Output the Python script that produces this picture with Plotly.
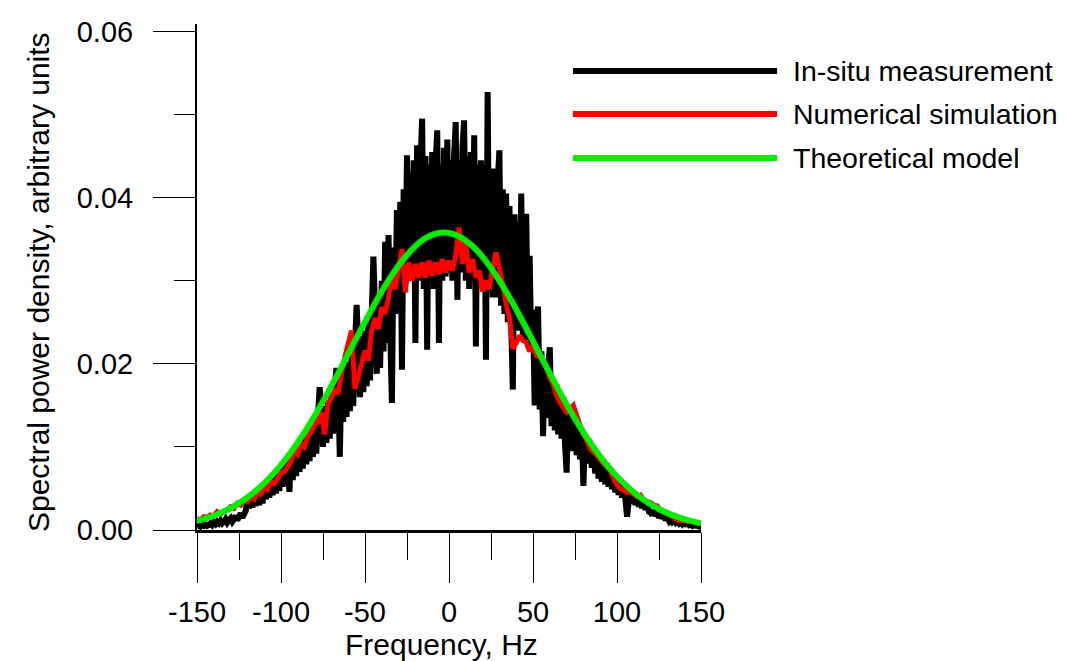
import plotly.graph_objects as go

# ---------------- data ----------------
insitu_freq = list(range(-150, 151, 1))
insitu_psd = [
    0.0004, 0.0005, 0.0004, 0.0006, 0.0005, 0.0007, 0.0005, 0.0006, 0.0008, 0.0006,
    0.0009, 0.0007, 0.0010, 0.0008, 0.0011, 0.0008, 0.0010, 0.0013, 0.0009, 0.0012,
    0.0014, 0.0010, 0.0013, 0.0017, 0.0012, 0.0016, 0.0020, 0.0015, 0.0019, 0.0023,
    0.0037, 0.0026, 0.0039, 0.0027, 0.0041, 0.0029, 0.0043, 0.0030, 0.0046, 0.0032,
    0.0053, 0.0037, 0.0056, 0.0039, 0.0059, 0.0042, 0.0063, 0.0044, 0.0068, 0.0047,
    0.0074, 0.0052, 0.0078, 0.0055, 0.0083, 0.0046, 0.0093, 0.0060, 0.0094, 0.0065,
    0.0100, 0.0070, 0.0106, 0.0074, 0.0112, 0.0079, 0.0119, 0.0083, 0.0125, 0.0088,
    0.0130, 0.0092, 0.0136, 0.0172, 0.0142, 0.0100, 0.0149, 0.0105, 0.0156, 0.0110,
    0.0164, 0.0116, 0.0172, 0.0195, 0.0178, 0.0088, 0.0186, 0.0130, 0.0195, 0.0136,
    0.0202, 0.0143, 0.0210, 0.0149, 0.0219, 0.0271, 0.0226, 0.0160, 0.0234, 0.0166,
    0.0240, 0.0173, 0.0250, 0.0180, 0.0260, 0.0329, 0.0265, 0.0188, 0.0273, 0.0195,
    0.0300, 0.0215, 0.0347, 0.0225, 0.0355, 0.0240, 0.0153, 0.0340, 0.0260, 0.0385,
    0.0300, 0.0395, 0.0193, 0.0410, 0.0300, 0.0451, 0.0310, 0.0430, 0.0300, 0.0445,
    0.0225, 0.0463, 0.0300, 0.0440, 0.0495, 0.0290, 0.0450, 0.0217, 0.0440, 0.0300,
    0.0455, 0.0290, 0.0440, 0.0481, 0.0225, 0.0440, 0.0300, 0.0460, 0.0305, 0.0470,
    0.0310, 0.0445, 0.0300, 0.0450, 0.0491, 0.0277, 0.0445, 0.0310, 0.0460, 0.0493,
    0.0300, 0.0450, 0.0290, 0.0455, 0.0300, 0.0475, 0.0221, 0.0440, 0.0300, 0.0445,
    0.0290, 0.0440, 0.0205, 0.0527, 0.0290, 0.0430, 0.0280, 0.0435, 0.0280, 0.0420,
    0.0457, 0.0270, 0.0410, 0.0260, 0.0405, 0.0250, 0.0390, 0.0250, 0.0169, 0.0380,
    0.0250, 0.0370, 0.0240, 0.0405, 0.0230, 0.0377, 0.0377, 0.0220, 0.0330, 0.0215,
    0.0265, 0.0150, 0.0240, 0.0269, 0.0145, 0.0215, 0.0113, 0.0205, 0.0135, 0.0195,
    0.0220, 0.0125, 0.0180, 0.0120, 0.0175, 0.0115, 0.0165, 0.0110, 0.0160, 0.0105,
    0.0069, 0.0148, 0.0100, 0.0142, 0.0095, 0.0135, 0.0090, 0.0128, 0.0085, 0.0122,
    0.0053, 0.0115, 0.0080, 0.0108, 0.0105, 0.0075, 0.0100, 0.0068, 0.0095, 0.0062,
    0.0087, 0.0058, 0.0084, 0.0055, 0.0080, 0.0052, 0.0075, 0.0049, 0.0069, 0.0045,
    0.0064, 0.0042, 0.0060, 0.0039, 0.0056, 0.0037, 0.0016, 0.0035, 0.0050, 0.0032,
    0.0045, 0.0030, 0.0042, 0.0028, 0.0039, 0.0026, 0.0036, 0.0024, 0.0033, 0.0022,
    0.0021, 0.0018, 0.0024, 0.0017, 0.0020, 0.0015, 0.0019, 0.0014, 0.0017, 0.0012,
    0.0015, 0.0011, 0.0014, 0.0010, 0.0012, 0.0009, 0.0011, 0.0008, 0.0010, 0.0007,
    0.0009, 0.0007, 0.0008, 0.0006, 0.0007, 0.0005, 0.0006, 0.0005, 0.0005, 0.0004,
    0.0004,
]

simulation_freq = list(range(-150, 151, 2))
simulation_psd = [
    0.0014, 0.0012, 0.0016, 0.0015, 0.0018, 0.0017, 0.0022, 0.0019, 0.0023, 0.0024,
    0.0028, 0.0026, 0.0032, 0.0030, 0.0035, 0.0034, 0.0040, 0.0037, 0.0045, 0.0043,
    0.0052, 0.0049, 0.0058, 0.0056, 0.0062, 0.0068, 0.0070, 0.0076, 0.0083, 0.0095,
    0.0091, 0.0104, 0.0100, 0.0113, 0.0118, 0.0126, 0.0130, 0.0142, 0.0115, 0.0152,
    0.0159, 0.0170, 0.0164, 0.0189, 0.0208, 0.0224, 0.0240, 0.0170, 0.0185, 0.0200,
    0.0216, 0.0204, 0.0240, 0.0255, 0.0242, 0.0268, 0.0260, 0.0279, 0.0308, 0.0290,
    0.0315, 0.0338, 0.0286, 0.0322, 0.0300, 0.0320, 0.0304, 0.0322, 0.0304, 0.0324,
    0.0306, 0.0322, 0.0308, 0.0326, 0.0310, 0.0324, 0.0312, 0.0330, 0.0364, 0.0320,
    0.0345, 0.0310, 0.0326, 0.0304, 0.0312, 0.0287, 0.0300, 0.0290, 0.0315, 0.0334,
    0.0315, 0.0296, 0.0272, 0.0255, 0.0218, 0.0225, 0.0234, 0.0228, 0.0226, 0.0215,
    0.0222, 0.0210, 0.0208, 0.0204, 0.0195, 0.0183, 0.0176, 0.0162, 0.0154, 0.0148,
    0.0142, 0.0146, 0.0150, 0.0138, 0.0126, 0.0115, 0.0108, 0.0098, 0.0094, 0.0090,
    0.0085, 0.0080, 0.0076, 0.0071, 0.0062, 0.0054, 0.0050, 0.0048, 0.0045, 0.0046,
    0.0043, 0.0040, 0.0042, 0.0036, 0.0034, 0.0033, 0.0030, 0.0029, 0.0024, 0.0021,
    0.0019, 0.0017, 0.0015, 0.0012, 0.0011, 0.0012, 0.0010, 0.0011, 0.0009, 0.0008,
    0.0007,
]

model_freq = list(range(-150, 151, 5))
model_psd = [
    0.00109, 0.00137, 0.00172, 0.00214, 0.00264, 0.00323, 0.00391, 0.00471, 0.00562, 0.00665,
    0.00781, 0.00911, 0.01053, 0.01206, 0.01372, 0.01548, 0.01732, 0.01922, 0.02117, 0.02312,
    0.02505, 0.02691, 0.02869, 0.03034, 0.03182, 0.03310, 0.03416, 0.03498, 0.03552, 0.03578,
    0.03575, 0.03543, 0.03483, 0.03397, 0.03287, 0.03154, 0.03002, 0.02835, 0.02655, 0.02467,
    0.02273, 0.02078, 0.01884, 0.01695, 0.01512, 0.01338, 0.01175, 0.01023, 0.00884, 0.00757,
    0.00644, 0.00543, 0.00454, 0.00377, 0.00310, 0.00253, 0.00205, 0.00164, 0.00131, 0.00103,
    0.00081,
]

series_names = ["In-situ measurement", "Numerical simulation", "Theoretical model"]
series_colors = ["#000000", "#ff0000", "#00ee00"]

x_tick_vals = [-150, -100, -50, 0, 50, 100, 150]
x_tick_text = ["-150", "-100", "-50", "0", "50", "100", "150"]
x_minor_vals = [-125, -75, -25, 25, 75, 125]
y_tick_vals = [0.0, 0.02, 0.04, 0.06]
y_tick_text = ["0.00", "0.02", "0.04", "0.06"]
y_minor_vals = [0.01, 0.03, 0.05]
x_title = "Frequency, Hz"
y_title = "Spectral power density, arbitrary units"

assert len(insitu_psd) == len(insitu_freq)
assert len(simulation_psd) == len(simulation_freq)
assert len(model_psd) == len(model_freq)

FONT = "Arial, 'Liberation Sans', sans-serif"

fig = go.Figure()
fig.add_trace(go.Scatter(x=insitu_freq, y=insitu_psd, mode="lines", name=series_names[0],
                         line=dict(color=series_colors[0], width=6, simplify=False)))
fig.add_trace(go.Scatter(x=simulation_freq, y=simulation_psd, mode="lines", name=series_names[1],
                         line=dict(color=series_colors[1], width=5, simplify=False)))
fig.add_trace(go.Scatter(x=model_freq, y=model_psd, mode="lines", name=series_names[2],
                         line=dict(color=series_colors[2], width=6, shape="spline")))

# legend drawn manually (long sample lines as in the reference)
legend_y = [0.907, 0.822, 0.735]
for name, col, ly in zip(series_names, series_colors, legend_y):
    fig.add_shape(type="line", xref="paper", yref="paper", x0=0.746, x1=1.151, y0=ly, y1=ly,
                  line=dict(color=col, width=6))
    fig.add_annotation(xref="paper", yref="paper", x=1.179, y=ly, text=name, showarrow=False,
                       xanchor="left", yanchor="middle", font=dict(size=28.5, color="black", family=FONT))

# axis titles
fig.add_annotation(xref="paper", yref="paper", x=0.485, y=-0.227, text=x_title, showarrow=False,
                   xanchor="center", yanchor="middle", font=dict(size=30, color="black", family=FONT))
fig.add_annotation(xref="paper", yref="paper", x=-0.3155, y=0.49, text=y_title, showarrow=False,
                   textangle=-90, xanchor="center", yanchor="middle",
                   font=dict(size=30, color="black", family=FONT))

fig.update_layout(
    width=1060, height=653,
    margin=dict(l=189, r=367, t=16, b=131, autoexpand=False),
    paper_bgcolor="white", plot_bgcolor="white",
    showlegend=False,
    font=dict(family=FONT, size=29, color="black"),
)
fig.update_xaxes(
    range=[-150, 150], showgrid=False, zeroline=False, automargin=False,
    showline=True, linecolor="black", linewidth=3,
    tickmode="array", tickvals=x_tick_vals, ticktext=x_tick_text,
    ticks="outside", ticklen=50, tickwidth=1, tickcolor="black",
    ticklabelstandoff=4, tickfont=dict(size=29),
    minor=dict(tickmode="array", tickvals=x_minor_vals, ticks="outside", ticklen=27,
               tickwidth=1, tickcolor="black"),
)
fig.update_yaxes(
    range=[0, 0.0609], showgrid=False, zeroline=False, automargin=False,
    showline=True, linecolor="black", linewidth=2,
    tickmode="array", tickvals=y_tick_vals, ticktext=y_tick_text,
    ticks="outside", ticklen=42, tickwidth=1, tickcolor="black",
    ticklabelstandoff=14, tickfont=dict(size=29),
    minor=dict(tickmode="array", tickvals=y_minor_vals, ticks="outside", ticklen=21,
               tickwidth=1, tickcolor="black"),
)

fig.write_html("out.html")
